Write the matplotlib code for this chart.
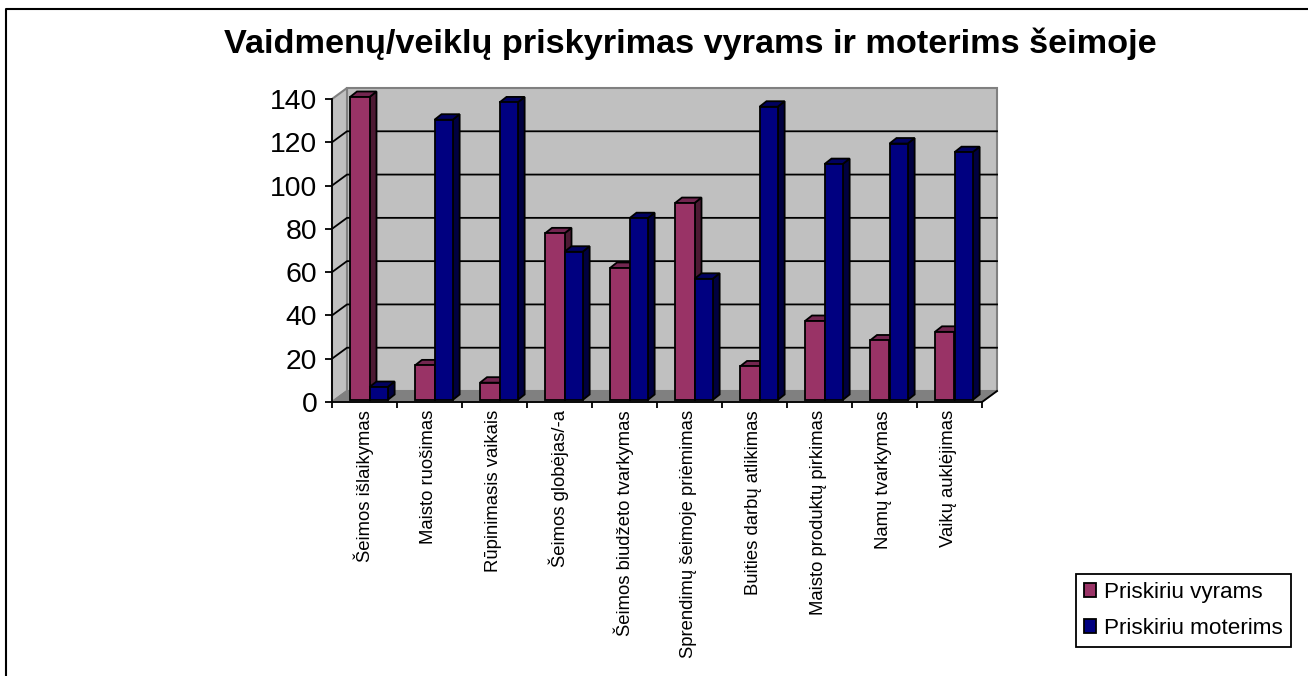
import matplotlib
matplotlib.use("Agg")
import matplotlib.pyplot as plt
from matplotlib.patches import Rectangle, Polygon

plt.rcParams['font.family'] = ['Liberation Sans', 'DejaVu Sans']

title = "Vaidmenų/veiklų priskyrimas vyrams ir moterims šeimoje"
categories = ["Šeimos išlaikymas", "Maisto ruošimas", "Rūpinimasis vaikais",
              "Šeimos globėjas/-a", "Šeimos biudžeto tvarkymas",
              "Sprendimų šeimoje priėmimas", "Buities darbų atlikimas",
              "Maisto produktų pirkimas", "Namų tvarkymas", "Vaikų auklėjimas"]
vyrams = [140, 16, 8, 77, 61, 91, 15.5, 36.5, 27.5, 31.5]
moterims = [6, 129.5, 137.5, 68.5, 84, 56, 135.5, 109, 118.5, 114.5]
yticks = [0, 20, 40, 60, 80, 100, 120, 140]
series_names = ["Priskiriu vyrams", "Priskiriu moterims"]

W, H = 1308, 676
fig = plt.figure(figsize=(W / 100, H / 100), dpi=100)

# frame: only top and left edges are inside the picture
fig.add_artist(plt.Line2D([6 / W, 6 / W, 1], [0, 1 - 9 / H, 1 - 9 / H], transform=fig.transFigure,
                          color='black', lw=1.5))

ax = fig.add_axes([332 / W, 1 - 402 / H, 650 / W, 303 / H])
ax.set_xlim(0, len(categories))
ax.set_ylim(0, 140)
ax.patch.set_visible(False)

# pixel sizes converted to data units
ux = len(categories) / 650
uy = 140 / 303
wall_dx, wall_dy = 15 * ux, 11 * uy
depth_dx, depth_dy = 7 * ux, 5.5 * uy
n = len(categories)


def poly(pts, fc, ec, z, lw=1.3):
    ax.add_patch(Polygon(pts, closed=True, fc=fc, ec=ec, lw=lw, zorder=z, clip_on=False))


# back wall, side wall, floor
poly([(wall_dx, wall_dy), (n + wall_dx, wall_dy), (n + wall_dx, 140 + wall_dy), (wall_dx, 140 + wall_dy)],
     '#C0C0C0', '#808080', 1, 1.5)
poly([(0, 0), (wall_dx, wall_dy), (wall_dx, 140 + wall_dy), (0, 140)], '#C0C0C0', '#808080', 1, 1.5)
poly([(0, 0), (n, 0), (n + wall_dx, wall_dy), (wall_dx, wall_dy)], '#808080', '#808080', 1.5)

# gridlines on the walls
for v in yticks[1:-1]:
    ax.plot([0, wall_dx, n + wall_dx], [v, v + wall_dy, v + wall_dy], color='black', lw=1.3,
            zorder=2, clip_on=False)

# bars
bar_w = 19.5 * ux
base_x = 5 * ux
base_y = 2 * uy
z = 3
for i in range(n):
    left = i + 0.5 + base_x - bar_w
    for k, (val, front, side, top) in enumerate([(vyrams[i], '#993366', '#4D1A33', '#732650'),
                                                 (moterims[i], '#000080', '#000040', '#000060')]):
        x0 = left + k * bar_w
        x1 = x0 + (bar_w if k == 0 else bar_w * 0.93)
        y0 = base_y
        y1 = val + base_y
        poly([(x1, y0), (x1 + depth_dx, y0 + depth_dy), (x1 + depth_dx, y1 + depth_dy), (x1, y1)],
             side, 'black', z)
        poly([(x0, y1), (x1, y1), (x1 + depth_dx, y1 + depth_dy), (x0 + depth_dx, y1 + depth_dy)],
             top, 'black', z)
        ax.bar(x0, y1 - y0, width=x1 - x0, bottom=y0, align='edge', color=front, edgecolor='black',
               linewidth=1.3, zorder=z + 0.5, clip_on=False)
        z += 1

# front axes
for s in ['top', 'right']:
    ax.spines[s].set_visible(False)
for s in ['left', 'bottom']:
    ax.spines[s].set_linewidth(1.3)
    ax.spines[s].set_zorder(50)
ax.plot([n, n + wall_dx], [0, wall_dy], color='black', lw=1.3, zorder=50, clip_on=False)

ax.set_yticks(yticks)
ax.tick_params(axis='y', labelsize=20.4, length=5, width=1.3, pad=5.7, colors='black')
ax.set_xticks(range(n + 1))
ax.set_xticklabels([''] * (n + 1))
ax.tick_params(axis='x', length=4.5, width=1.3)
for i, c in enumerate(categories):
    ax.annotate(c, xy=(i + 0.5, 0), xytext=(-0.7, -5.8), textcoords='offset points', rotation=90,
                ha='center', va='top', fontsize=13.3, annotation_clip=False)

fig.text(690 / W, 1 - 43.5 / H, title, ha='center', va='center', fontsize=24.7, fontweight='bold')

# legend
handles = [Rectangle((0, 0), 1, 1, fc='#993366', ec='black', lw=1.3),
           Rectangle((0, 0), 1, 1, fc='#000080', ec='black', lw=1.3)]
fig.legend(handles, series_names, loc='lower left', bbox_to_anchor=(1076 / W, 1 - 647 / H),
           fontsize=16.2, frameon=True, fancybox=False, edgecolor='black', framealpha=1,
           handlelength=0.55, handleheight=0.55, handletextpad=0.35, labelspacing=0.68,
           borderpad=0.35, borderaxespad=0).get_frame().set_linewidth(1.3)

fig.savefig("out.png", dpi=100)
